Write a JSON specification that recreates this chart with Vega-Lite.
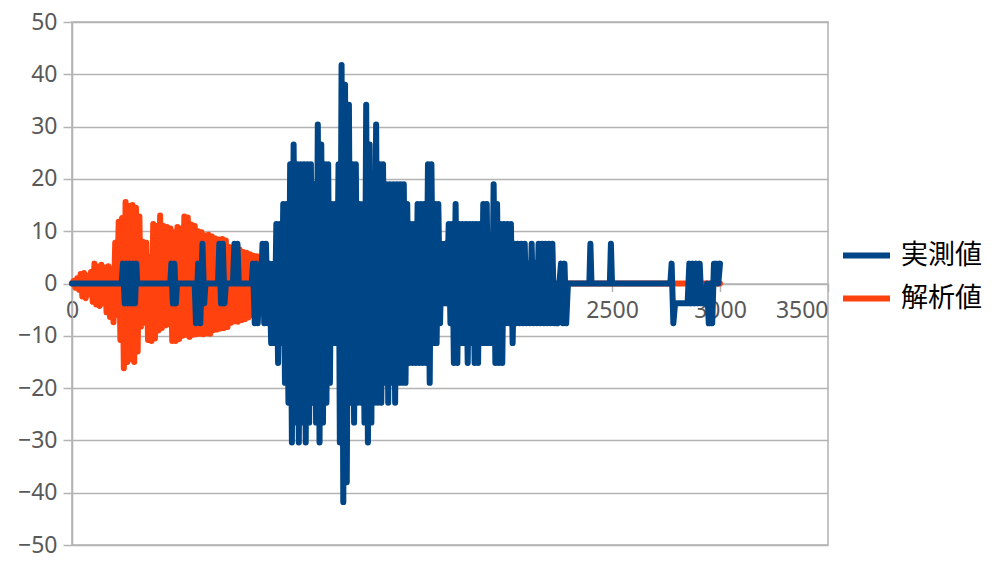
{
  "$schema": "https://vega.github.io/schema/vega-lite/v6.json",
  "width": 756,
  "height": 523,
  "autosize": {"type": "none"},
  "padding": {"left": 72, "top": 22, "right": 179, "bottom": 23},
  "background": "#ffffff",
  "config": {
    "view": {"stroke": "#b3b3b3", "strokeWidth": 1.5},
    "font": "Noto Sans"
  },
  "datasets": {
    "blue": [
      {"x":0,"y":0},{"x":230,"y":0},{"x":236,"y":3.8},{"x":244,"y":-3.8},{"x":252,"y":3.8},{"x":260,"y":-3.8},{"x":268,"y":3.8},{"x":276,"y":-3.8},{"x":284,"y":3.8},{"x":292,"y":-3.8},{"x":298,"y":3.8},{"x":302,"y":0},
      {"x":455,"y":0},{"x":460,"y":3.8},{"x":467,"y":-3.8},{"x":474,"y":3.8},{"x":481,"y":-3.8},{"x":486,"y":0},
      {"x":568,"y":0},{"x":574,"y":-7.6},{"x":584,"y":3.8},{"x":594,"y":-7.6},{"x":604,"y":7.6},{"x":612,"y":-3.8},{"x":618,"y":0},
      {"x":676,"y":0},{"x":682,"y":7.6},{"x":690,"y":-3.8},{"x":698,"y":7.6},{"x":706,"y":-3.8},{"x":712,"y":0},
      {"x":745,"y":0},{"x":752,"y":7.6},{"x":760,"y":0},{"x":766,"y":7.6},{"x":772,"y":0},
      {"x":832,"y":0},{"x":838,"y":3.8},{"x":846,"y":-7.6},{"x":854,"y":3.8},{"x":860,"y":-7.6},{"x":866,"y":0},
      {"x":876,"y":0},{"x":882,"y":7.6},{"x":890,"y":-7.6},{"x":898,"y":7.6},{"x":906,"y":-7.6},{"x":914,"y":3.8},{"x":922,"y":-11.4},{"x":930,"y":3.8},{"x":938,"y":-11.4},
      {"x":946,"y":11.4},{"x":954,"y":-15.2},{"x":962,"y":11.4},{"x":970,"y":-11.4},{"x":978,"y":15.2},{"x":986,"y":-19},{"x":994,"y":15.2},{"x":1002,"y":-22.8},
      {"x":1010,"y":22.8},{"x":1018,"y":-30.4},{"x":1026,"y":26.6},{"x":1034,"y":-26.6},{"x":1042,"y":22.8},{"x":1050,"y":-30.4},{"x":1058,"y":22.8},{"x":1066,"y":-26.6},
      {"x":1074,"y":22.8},{"x":1082,"y":-30.4},{"x":1090,"y":22.8},{"x":1098,"y":-26.6},{"x":1106,"y":22.8},{"x":1114,"y":-22.8},{"x":1122,"y":19},{"x":1130,"y":-26.6},
      {"x":1138,"y":30.4},{"x":1146,"y":-30.4},{"x":1154,"y":26.6},{"x":1162,"y":-26.6},{"x":1170,"y":22.8},{"x":1178,"y":-22.8},{"x":1186,"y":22.8},{"x":1194,"y":-19},
      {"x":1202,"y":15.2},{"x":1210,"y":-11.4},{"x":1218,"y":15.2},{"x":1226,"y":-11.4},{"x":1234,"y":22.8},{"x":1240,"y":-30.4},{"x":1248,"y":41.8},{"x":1256,"y":-41.8},
      {"x":1264,"y":38},{"x":1272,"y":-38},{"x":1282,"y":34.2},{"x":1290,"y":-22.8},{"x":1298,"y":22.8},{"x":1306,"y":-26.6},{"x":1314,"y":22.8},{"x":1322,"y":-22.8},
      {"x":1330,"y":15.2},{"x":1338,"y":-22.8},{"x":1346,"y":15.2},{"x":1354,"y":-26.6},{"x":1362,"y":34.2},{"x":1370,"y":-30.4},{"x":1378,"y":26.6},{"x":1386,"y":-26.6},
      {"x":1392,"y":19},{"x":1400,"y":-22.8},{"x":1408,"y":30.4},{"x":1416,"y":-22.8},{"x":1424,"y":22.8},{"x":1432,"y":-22.8},{"x":1440,"y":22.8},{"x":1448,"y":-19},
      {"x":1456,"y":19},{"x":1464,"y":-22.8},{"x":1472,"y":19},{"x":1480,"y":-19},{"x":1488,"y":19},{"x":1496,"y":-22.8},{"x":1504,"y":19},{"x":1512,"y":-19},
      {"x":1520,"y":19},{"x":1528,"y":-19},{"x":1536,"y":19},{"x":1544,"y":-19},{"x":1552,"y":15.2},{"x":1560,"y":-15.2},{"x":1568,"y":11.4},{"x":1576,"y":-15.2},
      {"x":1584,"y":11.4},{"x":1592,"y":-15.2},{"x":1600,"y":15.2},{"x":1608,"y":-15.2},{"x":1616,"y":15.2},{"x":1624,"y":-15.2},{"x":1632,"y":15.2},{"x":1640,"y":-15.2},
      {"x":1648,"y":22.8},{"x":1656,"y":-19},{"x":1664,"y":22.8},{"x":1672,"y":-11.4},{"x":1680,"y":15.2},{"x":1688,"y":-11.4},{"x":1696,"y":15.2},{"x":1704,"y":-7.6},
      {"x":1712,"y":7.6},{"x":1720,"y":-3.8},{"x":1728,"y":7.6},{"x":1736,"y":-3.8},{"x":1744,"y":11.4},{"x":1752,"y":-7.6},{"x":1760,"y":11.4},{"x":1768,"y":-15.2},
      {"x":1776,"y":15.2},{"x":1784,"y":-15.2},{"x":1792,"y":11.4},{"x":1800,"y":-11.4},{"x":1808,"y":11.4},{"x":1816,"y":-11.4},{"x":1824,"y":11.4},{"x":1832,"y":-15.2},
      {"x":1840,"y":11.4},{"x":1848,"y":-11.4},{"x":1856,"y":11.4},{"x":1864,"y":-15.2},{"x":1872,"y":11.4},{"x":1880,"y":-15.2},{"x":1888,"y":11.4},{"x":1896,"y":-11.4},
      {"x":1904,"y":15.2},{"x":1912,"y":-11.4},{"x":1920,"y":15.2},{"x":1928,"y":-11.4},{"x":1936,"y":7.6},{"x":1944,"y":-11.4},{"x":1952,"y":19},{"x":1960,"y":-15.2},
      {"x":1968,"y":15.2},{"x":1976,"y":-15.2},{"x":1984,"y":11.4},{"x":1992,"y":-15.2},{"x":2000,"y":11.4},{"x":2008,"y":-7.6},{"x":2016,"y":11.4},{"x":2024,"y":-7.6},
      {"x":2032,"y":11.4},{"x":2040,"y":-11.4},{"x":2048,"y":7.6},{"x":2056,"y":-7.6},{"x":2064,"y":7.6},{"x":2072,"y":-7.6},{"x":2080,"y":7.6},{"x":2088,"y":-7.6},
      {"x":2096,"y":7.6},{"x":2104,"y":-7.6},{"x":2112,"y":3.8},{"x":2120,"y":-7.6},{"x":2128,"y":7.6},{"x":2136,"y":-7.6},{"x":2144,"y":3.8},{"x":2152,"y":-7.6},
      {"x":2160,"y":7.6},{"x":2168,"y":-7.6},{"x":2176,"y":7.6},{"x":2184,"y":-7.6},{"x":2192,"y":7.6},{"x":2200,"y":-7.6},{"x":2208,"y":7.6},{"x":2216,"y":-7.6},
      {"x":2224,"y":7.6},{"x":2232,"y":-7.6},{"x":2240,"y":0},{"x":2248,"y":-7.6},{"x":2256,"y":0},{"x":2264,"y":3.8},{"x":2272,"y":-7.6},{"x":2280,"y":3.8},{"x":2288,"y":-7.6},{"x":2296,"y":0},
      {"x":2395,"y":0},{"x":2400,"y":7.6},{"x":2405,"y":0},{"x":2490,"y":0},{"x":2495,"y":7.6},{"x":2500,"y":0},
      {"x":2770,"y":0},{"x":2776,"y":3.8},{"x":2784,"y":-7.6},{"x":2792,"y":-3.8},{"x":2850,"y":-3.8},{"x":2858,"y":3.8},{"x":2866,"y":-3.8},{"x":2874,"y":3.8},{"x":2882,"y":-3.8},
      {"x":2890,"y":3.8},{"x":2898,"y":-3.8},{"x":2906,"y":3.8},{"x":2914,"y":-3.8},{"x":2930,"y":-3.8},{"x":2940,"y":0},{"x":2948,"y":-7.6},{"x":2956,"y":0},{"x":2964,"y":-7.6},
      {"x":2972,"y":3.8},{"x":2986,"y":3.8},{"x":2992,"y":0},{"x":3000,"y":3.8}
    ],
    "orange": [
      {"x":0,"y":0},{"x":8,"y":0.5},{"x":16,"y":-0.8},{"x":24,"y":1},{"x":32,"y":-1.2},{"x":40,"y":1.8},{"x":48,"y":-2.5},{"x":56,"y":2},{"x":64,"y":-2.8},{"x":72,"y":1.5},
      {"x":80,"y":-2},{"x":88,"y":2.2},{"x":96,"y":-3.5},{"x":104,"y":3.8},{"x":112,"y":-4},{"x":120,"y":3.2},{"x":128,"y":-4.3},{"x":136,"y":3.6},{"x":144,"y":-3.8},{"x":152,"y":3},
      {"x":160,"y":-5.5},{"x":168,"y":3.3},{"x":176,"y":-6.4},{"x":184,"y":2.8},{"x":192,"y":-7.4},{"x":200,"y":7.8},{"x":208,"y":-6},{"x":216,"y":11.8},{"x":224,"y":-10.8},{"x":232,"y":12.5},
      {"x":240,"y":-16.2},{"x":248,"y":15.6},{"x":256,"y":-15},{"x":264,"y":14.8},{"x":272,"y":-14.5},{"x":280,"y":15},{"x":288,"y":-15},{"x":296,"y":14.5},{"x":304,"y":-13},{"x":312,"y":12.8},
      {"x":320,"y":-8.2},{"x":328,"y":8},{"x":336,"y":-7.5},{"x":344,"y":7.8},{"x":352,"y":-10.8},{"x":360,"y":5},{"x":368,"y":-11},{"x":376,"y":11.4},{"x":384,"y":-10.5},{"x":392,"y":11},
      {"x":400,"y":-9},{"x":408,"y":13},{"x":416,"y":-8.5},{"x":424,"y":11},{"x":432,"y":-8},{"x":440,"y":10.8},{"x":448,"y":-7.8},{"x":456,"y":10.5},{"x":464,"y":-11},{"x":472,"y":9.8},
      {"x":480,"y":-11},{"x":488,"y":10.8},{"x":496,"y":-10.6},{"x":504,"y":10.5},{"x":512,"y":-10},{"x":520,"y":12.8},{"x":528,"y":-9.8},{"x":536,"y":12.6},{"x":544,"y":-10.2},{"x":552,"y":11.3},
      {"x":560,"y":-9.8},{"x":568,"y":11},{"x":576,"y":-9.7},{"x":584,"y":10},{"x":592,"y":-9.6},{"x":600,"y":9.8},{"x":608,"y":-9.7},{"x":616,"y":9.2},{"x":624,"y":-9.5},{"x":632,"y":9.3},
      {"x":640,"y":-9.6},{"x":648,"y":9},{"x":656,"y":-8.9},{"x":664,"y":8.6},{"x":672,"y":-8.8},{"x":680,"y":8.4},{"x":688,"y":-8.6},{"x":696,"y":8.5},{"x":704,"y":-8.5},{"x":712,"y":8.2},
      {"x":720,"y":-8.3},{"x":728,"y":7},{"x":736,"y":-7.5},{"x":744,"y":6.9},{"x":752,"y":-7.2},{"x":760,"y":6.8},{"x":768,"y":-7.3},{"x":776,"y":6.5},{"x":784,"y":-7},{"x":792,"y":6},
      {"x":800,"y":-6.8},{"x":808,"y":5.9},{"x":816,"y":-6.5},{"x":824,"y":5.6},{"x":832,"y":-6},{"x":840,"y":5.3},{"x":848,"y":-5.8},{"x":856,"y":5.2},{"x":864,"y":-5},{"x":872,"y":4.6},
      {"x":880,"y":-4.8},{"x":888,"y":4.4},{"x":896,"y":-4.6},{"x":904,"y":3.7},{"x":912,"y":-4},{"x":920,"y":3.5},{"x":928,"y":-3.6},{"x":936,"y":3},{"x":944,"y":-2.8},{"x":952,"y":2.5},
      {"x":960,"y":-2.5},{"x":975,"y":2.2},{"x":990,"y":-2},{"x":1010,"y":1.8},{"x":1030,"y":-1.6},{"x":1060,"y":1.4},{"x":1090,"y":-1.3},{"x":1130,"y":1.2},{"x":1170,"y":-1.1},{"x":1220,"y":1},
      {"x":1270,"y":-1},{"x":1330,"y":0.9},{"x":1400,"y":-0.8},{"x":1480,"y":0.6},{"x":1560,"y":-0.5},{"x":1650,"y":0.3},{"x":1750,"y":-0.3},{"x":1850,"y":0.2},{"x":1950,"y":-0.2},{"x":2000,"y":0},
      {"x":3000,"y":0}
    ]
  },
  "encoding": {
    "x": {
      "field": "x", "type": "quantitative",
      "scale": {"domain": [0, 3500], "nice": false, "zero": false},
      "axis": {
        "title": null, "values": [0, 500, 1000, 1500, 2000, 2500, 3000, 3500], "format": "d",
        "offset": -261.5, "grid": false,
        "domainColor": "#b3b3b3", "domainWidth": 1.5,
        "tickColor": "#b3b3b3", "tickWidth": 1.5, "tickSize": 8,
        "labelFontSize": 23, "labelColor": "#595959", "labelPadding": 8,
        "labelAlign": {"condition": {"test": "datum.value == 3500", "value": "right"}, "value": "center"},
        "labelFlush": false, "labelOverlap": false, "labelFont": "Noto Sans"
      }
    },
    "y": {
      "field": "y", "type": "quantitative",
      "scale": {"domain": [-50, 50], "nice": false},
      "axis": {
        "title": null, "values": [-50, -40, -30, -20, -10, 0, 10, 20, 30, 40, 50], "format": "d",
        "grid": true, "gridColor": "#b3b3b3", "gridWidth": 1.5,
        "domainColor": "#b3b3b3", "domainWidth": 1.5,
        "tickColor": "#b3b3b3", "tickWidth": 1.5, "tickSize": 9,
        "labelFontSize": 23, "labelColor": "#595959", "labelPadding": 6,
        "labelFlush": false, "labelOverlap": false, "labelFont": "Noto Sans"
      }
    }
  },
  "layer": [
    {
      "data": {"name": "orange"},
      "mark": {"type": "line", "strokeWidth": 6, "strokeCap": "round", "strokeJoin": "round"},
      "encoding": {
        "color": {
          "datum": "解析値",
          "scale": {"domain": ["実測値", "解析値"], "range": ["#004586", "#ff420e"]},
          "legend": {
            "title": null, "orient": "none", "legendX": 768, "legendY": 213,
            "symbolType": "stroke", "symbolStrokeWidth": 6, "symbolSize": 2209,
            "labelFontSize": 27, "labelColor": "#000000", "labelFont": "Noto Sans CJK JP",
            "labelOffset": 8, "clipHeight": 41
          }
        }
      }
    },
    {
      "data": {"name": "blue"},
      "mark": {"type": "line", "strokeWidth": 6, "strokeCap": "round", "strokeJoin": "round"},
      "encoding": {
        "color": {"datum": "実測値"}
      }
    }
  ]
}
